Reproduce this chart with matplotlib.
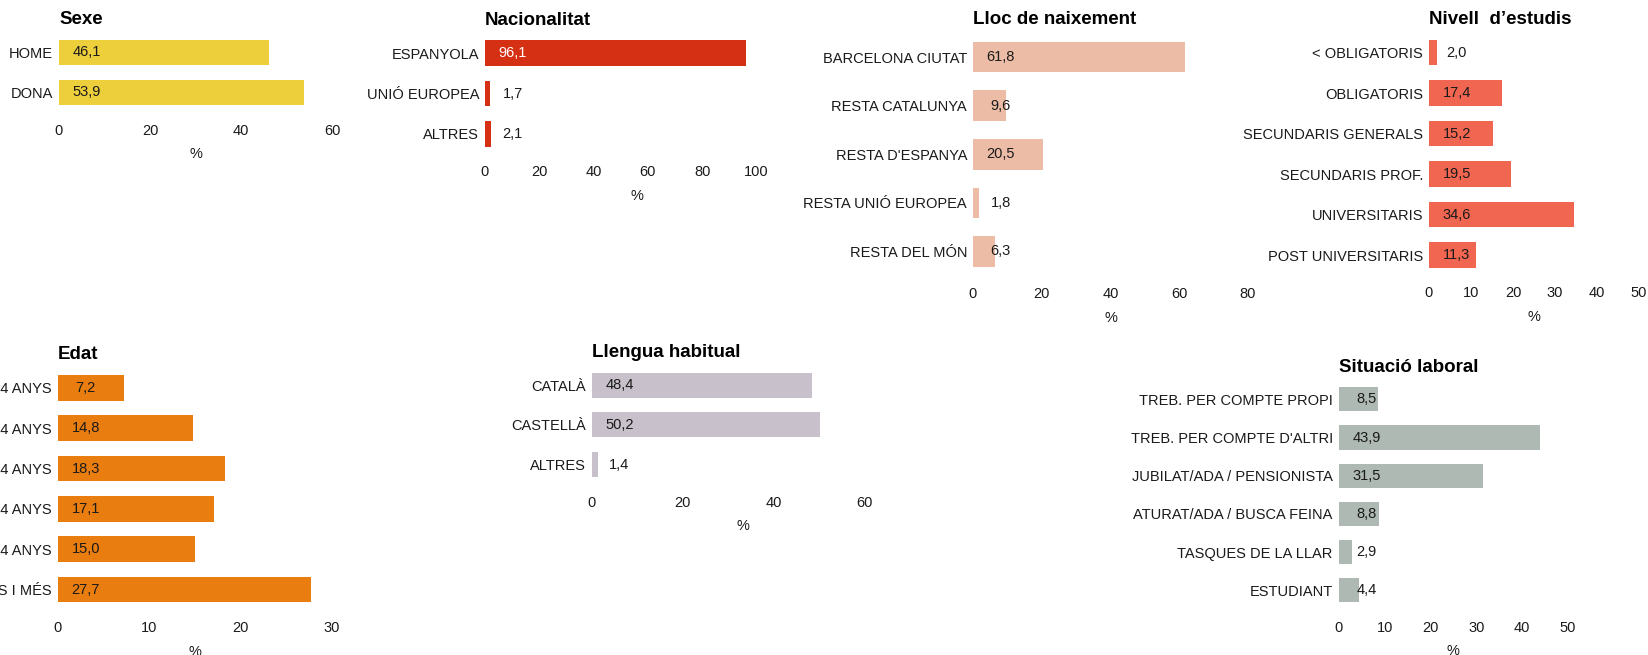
import matplotlib
matplotlib.use("Agg")
import matplotlib.pyplot as plt

plt.rcParams['font.family'] = ['Liberation Sans', 'DejaVu Sans']

W, H = 1649, 655

# --- data ---
sexe_cats = ["HOME", "DONA"]
sexe_vals = [46.1, 53.9]

nac_cats = ["ESPANYOLA", "UNIÓ EUROPEA", "ALTRES"]
nac_vals = [96.1, 1.7, 2.1]

lloc_cats = ["BARCELONA CIUTAT", "RESTA CATALUNYA", "RESTA D'ESPANYA",
             "RESTA UNIÓ EUROPEA", "RESTA DEL MÓN"]
lloc_vals = [61.8, 9.6, 20.5, 1.8, 6.3]

estudis_cats = ["< OBLIGATORIS", "OBLIGATORIS", "SECUNDARIS GENERALS",
                "SECUNDARIS PROF.", "UNIVERSITARIS", "POST UNIVERSITARIS"]
estudis_vals = [2.0, 17.4, 15.2, 19.5, 34.6, 11.3]

edat_cats = ["18-24 ANYS", "25-34 ANYS", "35-44 ANYS", "45-54 ANYS",
             "55-64 ANYS", "65 ANYS I MÉS"]
edat_vals = [7.2, 14.8, 18.3, 17.1, 15.0, 27.7]

llengua_cats = ["CATALÀ", "CASTELLÀ", "ALTRES"]
llengua_vals = [48.4, 50.2, 1.4]

sit_cats = ["TREB. PER COMPTE PROPI", "TREB. PER COMPTE D'ALTRI",
            "JUBILAT/ADA / PENSIONISTA", "ATURAT/ADA / BUSCA FEINA",
            "TASQUES DE LA LLAR", "ESTUDIANT"]
sit_vals = [8.5, 43.9, 31.5, 8.8, 2.9, 4.4]

TXT = "#1a1a1a"


def draw_panel(box, title, cats, vals, color, ticks, xmax, value_color=TXT):
    # box = (left, top, right, bottom) in pixels from the top-left corner
    left, top, right, bottom = box
    ax = fig.add_axes([left / W, 1 - bottom / H, (right - left) / W, (bottom - top) / H])
    ypos = list(range(len(cats)))
    ax.barh(ypos, vals, height=0.63, color=color, edgecolor="none")
    ax.set_ylim(len(cats) - 0.5, -0.5)
    ax.set_xlim(0, xmax)
    ax.set_yticks(ypos)
    ax.set_yticklabels(cats)
    ax.set_xticks(ticks)
    ax.set_xticklabels([str(t) for t in ticks])
    ax.tick_params(axis="y", length=0, pad=4.3, labelsize=10.5, labelcolor=TXT)
    ax.tick_params(axis="x", length=0, pad=8, labelsize=10.5, labelcolor=TXT)
    ax.set_xlabel("%", fontsize=10.5, color=TXT, labelpad=7)
    for s in ax.spines.values():
        s.set_visible(False)
    ax.set_title(title, loc="left", fontsize=13.5, fontweight="bold", pad=6, color="black")
    for y, v in zip(ypos, vals):
        ax.annotate(f"{v:.1f}".replace(".", ","), xy=(0, y), xytext=(20, 0),
                    textcoords="offset points", ha="center", va="center",
                    fontsize=10.5, color=value_color)
    return ax


fig = plt.figure(figsize=(W / 100, H / 100), dpi=100)

draw_panel((59, 32.5, 332, 112.5), "Sexe", sexe_cats, sexe_vals, "#EDCF3B", [0, 20, 40, 60], 60)
draw_panel((485, 33, 789, 154), "Nacionalitat", nac_cats, nac_vals, "#D52F14",
           [0, 20, 40, 60, 80, 100], 112)
draw_panel((973, 32.7, 1248, 275.8), "Lloc de naixement", lloc_cats, lloc_vals, "#EDBCA6",
           [0, 20, 40, 60, 80], 80)
draw_panel((1429, 32.3, 1639, 275.3), "Nivell  d\u2019estudis", estudis_cats, estudis_vals,
           "#F06650", [0, 10, 20, 30, 40, 50], 50)
draw_panel((58, 367.7, 332, 609.7), "Edat", edat_cats, edat_vals, "#E97D0F", [0, 10, 20, 30], 30)
draw_panel((591.7, 365.3, 895, 484.6), "Llengua habitual", llengua_cats, llengua_vals,
           "#C8C0CA", [0, 20, 40, 60], 66.7)
draw_panel((1338.8, 380.2, 1568, 609.4), "Situació laboral", sit_cats, sit_vals, "#ADB9B2",
           [0, 10, 20, 30, 40, 50], 50)

# the value on the long red bar is white in the original
fig.axes[1].texts[0].set_color("white")

fig.savefig("out.png", dpi=100, facecolor="white")
